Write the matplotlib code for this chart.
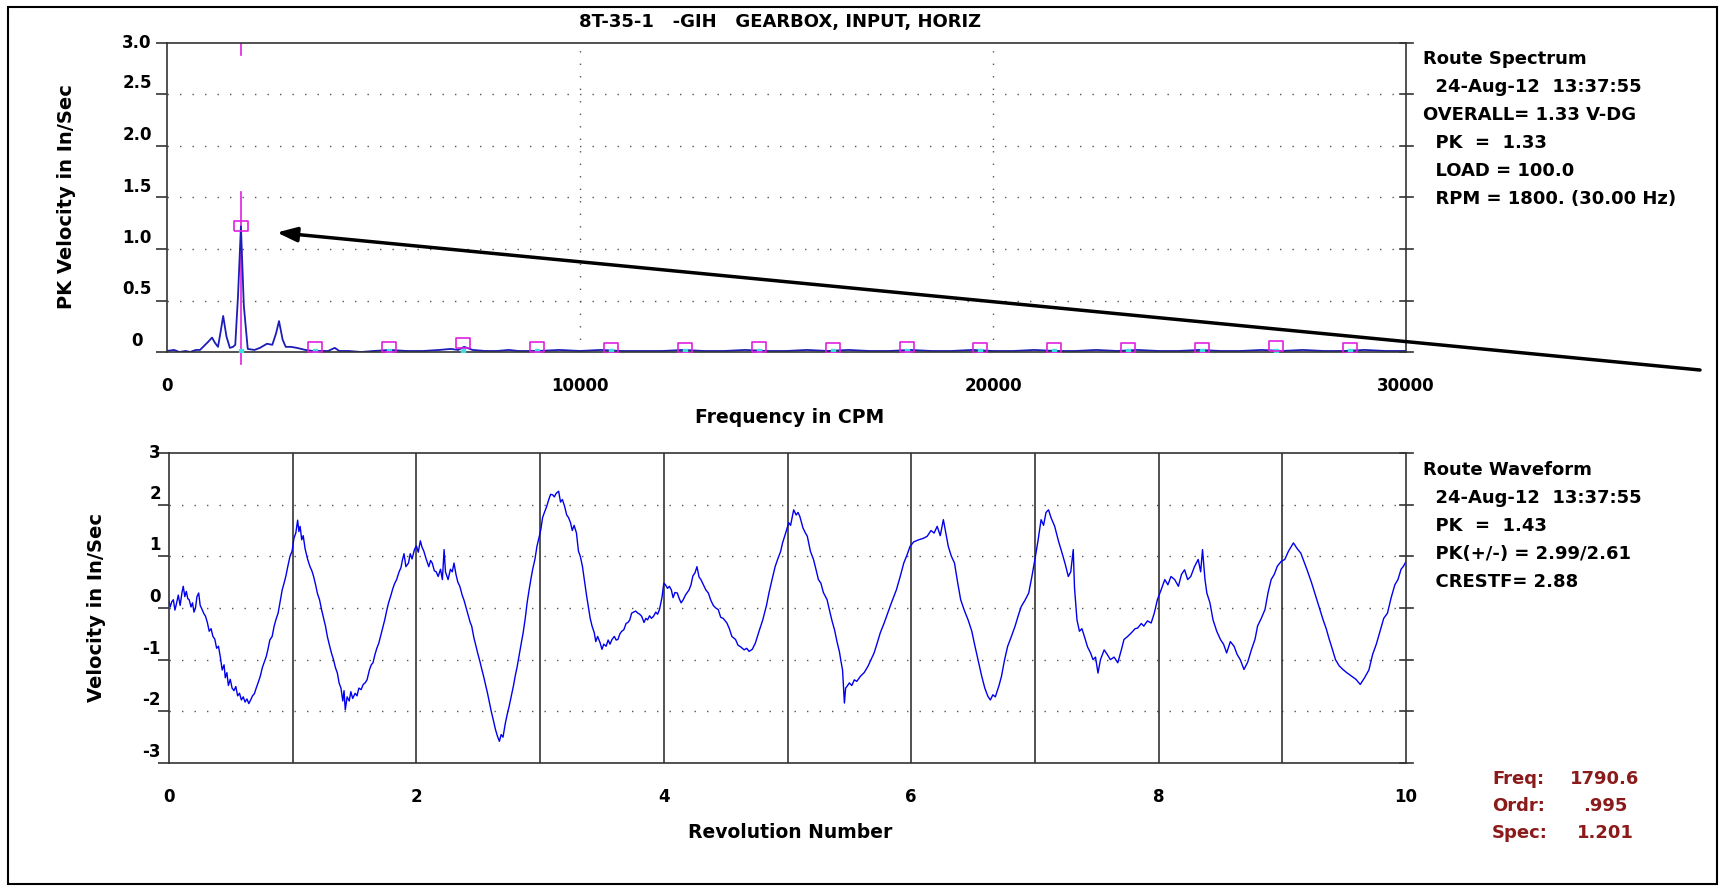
"""
Route spectrum and waveform plot for 8T-35-1 -GIH gearbox input, horizontal.
Values read by eye from the analyser printout.
"""
import matplotlib
matplotlib.use("Agg")
import matplotlib.pyplot as plt
import matplotlib.transforms as mtransforms

plt.rcParams['font.family'] = ['DejaVu Sans']
plt.rcParams['font.weight'] = 'bold'

#-- figure geometry (pixels) --------------------------------------------------
W, H = 1724, 890
DPI = 100

#-- spectrum data ---------------------------------------------------------------
freq_cpm = [0, 170, 300, 450, 560, 700, 800, 900, 1000, 1090, 1160, 1235,
            1300, 1360, 1440, 1523, 1600, 1653, 1720, 1790, 1860, 1955, 2117,
            2250, 2420, 2550, 2640, 2712, 2800, 2874, 3000, 3145, 3350, 3523,
            3700, 3900, 4063, 4171, 4400, 4700, 5000, 5400, 5800, 6200, 6600,
            6870, 7050, 7195, 7400, 7700, 8000, 8276, 8500, 9000, 9500, 10000,
            10500, 11000, 11500, 12000, 12500, 13000, 13500, 14000, 14500,
            15000, 15500, 16000, 16500, 17000, 17500, 18000, 18500, 19000,
            19500, 20000, 20500, 21000, 21500, 22000, 22500, 23000, 23500,
            24000, 24500, 25000, 25500, 26000, 26500, 27000, 27500, 28000,
            28500, 29000, 29500, 30000]
spec_amp = [0.01, 0.02, 0.0, 0.01, 0.0, 0.02, 0.02, 0.06, 0.10, 0.14, 0.09,
            0.05, 0.20, 0.35, 0.15, 0.04, 0.05, 0.07, 0.55, 1.22, 0.45, 0.03,
            0.02, 0.04, 0.08, 0.07, 0.18, 0.30, 0.12, 0.05, 0.05, 0.04, 0.02,
            0.01, 0.01, 0.01, 0.04, 0.01, 0.01, 0.0, 0.01, 0.02, 0.01, 0.01,
            0.02, 0.03, 0.02, 0.05, 0.02, 0.01, 0.01, 0.02, 0.01, 0.01, 0.02,
            0.01, 0.02, 0.01, 0.01, 0.01, 0.02, 0.01, 0.01, 0.02, 0.01, 0.01,
            0.02, 0.01, 0.02, 0.01, 0.01, 0.02, 0.01, 0.01, 0.02, 0.01, 0.01,
            0.02, 0.01, 0.01, 0.02, 0.01, 0.02, 0.01, 0.01, 0.02, 0.01, 0.01,
            0.02, 0.01, 0.02, 0.01, 0.01, 0.02, 0.01, 0.01]

#-- harmonic markers (multiples of 1790.6 CPM)
harm_cpm = [1790.6, 3581.2, 5371.8, 7162.4, 8953.0, 10743.6, 12534.2,
            14324.8, 16115.4, 17906.0, 19696.6, 21487.2, 23277.8, 25068.4,
            26859.0, 28649.6]
harm_amp = [1.22, 0.05, 0.05, 0.09, 0.05, 0.04, 0.04, 0.05, 0.04, 0.05,
            0.04, 0.04, 0.04, 0.04, 0.06, 0.04]
cursor_cpm = 1790.6

#-- waveform data ---------------------------------------------------------------
revs = [0.000, 0.010, 0.022, 0.035, 0.048, 0.060, 0.075, 0.090, 0.105, 0.115,
        0.128, 0.140, 0.152, 0.163, 0.178, 0.190, 0.202, 0.214, 0.226, 0.240,
        0.252, 0.266, 0.280, 0.295, 0.310, 0.325, 0.340, 0.355, 0.370, 0.385,
        0.400, 0.415, 0.430, 0.445, 0.455, 0.468, 0.480, 0.495, 0.510, 0.525,
        0.540, 0.555, 0.570, 0.585, 0.600, 0.615, 0.630, 0.645, 0.660, 0.675,
        0.690, 0.705, 0.720, 0.738, 0.755, 0.770, 0.786, 0.800, 0.815, 0.834,
        0.850, 0.865, 0.882, 0.900, 0.915, 0.930, 0.945, 0.960, 0.978, 0.995,
        1.010, 1.025, 1.040, 1.050, 1.060, 1.073, 1.085, 1.100, 1.121, 1.140,
        1.155, 1.169, 1.185, 1.200, 1.217, 1.235, 1.250, 1.265, 1.280, 1.295,
        1.313, 1.330, 1.345, 1.361, 1.375, 1.390, 1.405, 1.415, 1.425, 1.440,
        1.457, 1.470, 1.485, 1.505, 1.520, 1.535, 1.553, 1.570, 1.585, 1.601,
        1.620, 1.635, 1.649, 1.665, 1.680, 1.696, 1.715, 1.730, 1.744, 1.760,
        1.775, 1.792, 1.810, 1.825, 1.840, 1.860, 1.875, 1.888, 1.900, 1.915,
        1.936, 1.950, 1.965, 1.984, 2.000, 2.015, 2.032, 2.045, 2.060, 2.080,
        2.100, 2.115, 2.128, 2.145, 2.160, 2.176, 2.195, 2.210, 2.224, 2.235,
        2.256, 2.275, 2.290, 2.304, 2.320, 2.335, 2.351, 2.370, 2.385, 2.399,
        2.420, 2.435, 2.447, 2.465, 2.480, 2.495, 2.515, 2.530, 2.543, 2.560,
        2.575, 2.591, 2.605, 2.620, 2.639, 2.655, 2.671, 2.685, 2.700, 2.719,
        2.735, 2.750, 2.767, 2.785, 2.800, 2.815, 2.835, 2.850, 2.863, 2.880,
        2.895, 2.911, 2.925, 2.940, 2.958, 2.975, 2.990, 3.006, 3.020, 3.035,
        3.054, 3.070, 3.085, 3.102, 3.115, 3.130, 3.150, 3.165, 3.180, 3.198,
        3.215, 3.230, 3.246, 3.260, 3.275, 3.294, 3.310, 3.325, 3.342, 3.360,
        3.375, 3.390, 3.405, 3.420, 3.438, 3.450, 3.465, 3.486, 3.500, 3.515,
        3.534, 3.550, 3.565, 3.581, 3.600, 3.615, 3.629, 3.645, 3.660, 3.677,
        3.695, 3.710, 3.725, 3.740, 3.755, 3.773, 3.790, 3.805, 3.821, 3.840,
        3.855, 3.869, 3.885, 3.900, 3.917, 3.935, 3.950, 3.965, 3.985, 4.000,
        4.013, 4.030, 4.045, 4.061, 4.075, 4.090, 4.109, 4.125, 4.140, 4.157,
        4.175, 4.190, 4.204, 4.220, 4.235, 4.252, 4.268, 4.285, 4.300, 4.320,
        4.340, 4.360, 4.380, 4.400, 4.420, 4.440, 4.460, 4.480, 4.510, 4.530,
        4.550, 4.580, 4.600, 4.620, 4.650, 4.670, 4.690, 4.715, 4.740, 4.770,
        4.800, 4.830, 4.850, 4.875, 4.900, 4.920, 4.945, 4.960, 4.985, 5.010,
        5.025, 5.050, 5.070, 5.085, 5.100, 5.125, 5.145, 5.160, 5.185, 5.210,
        5.230, 5.250, 5.270, 5.290, 5.320, 5.340, 5.360, 5.380, 5.400, 5.420,
        5.430, 5.445, 5.460, 5.470, 5.480, 5.500, 5.520, 5.540, 5.560, 5.590,
        5.620, 5.650, 5.675, 5.700, 5.725, 5.750, 5.780, 5.810, 5.840, 5.880,
        5.910, 5.940, 5.970, 5.990, 6.020, 6.060, 6.100, 6.130, 6.160, 6.185,
        6.210, 6.235, 6.260, 6.280, 6.300, 6.325, 6.350, 6.375, 6.400, 6.430,
        6.460, 6.490, 6.510, 6.540, 6.570, 6.595, 6.620, 6.640, 6.660, 6.680,
        6.710, 6.730, 6.755, 6.780, 6.810, 6.840, 6.865, 6.890, 6.920, 6.950,
        6.975, 7.000, 7.025, 7.050, 7.070, 7.090, 7.110, 7.130, 7.160, 7.190,
        7.220, 7.245, 7.270, 7.290, 7.310, 7.320, 7.340, 7.360, 7.380, 7.400,
        7.425, 7.450, 7.470, 7.490, 7.510, 7.530, 7.560, 7.585, 7.610, 7.640,
        7.670, 7.700, 7.720, 7.750, 7.780, 7.810, 7.830, 7.860, 7.880, 7.910,
        7.940, 7.965, 7.990, 8.020, 8.050, 8.075, 8.100, 8.130, 8.160, 8.185,
        8.210, 8.235, 8.260, 8.290, 8.320, 8.340, 8.355, 8.375, 8.390, 8.415,
        8.440, 8.470, 8.500, 8.525, 8.550, 8.580, 8.610, 8.635, 8.660, 8.690,
        8.720, 8.750, 8.780, 8.800, 8.830, 8.860, 8.885, 8.910, 8.935, 8.960,
        8.990, 9.020, 9.050, 9.090, 9.120, 9.150, 9.175, 9.200, 9.235, 9.270,
        9.300, 9.330, 9.355, 9.380, 9.405, 9.430, 9.460, 9.490, 9.520, 9.560,
        9.595, 9.630, 9.665, 9.700, 9.730, 9.760, 9.790, 9.820, 9.850, 9.880,
        9.910, 9.935, 9.960, 9.980, 10.000]
vel = [0.13, 0.02, 0.12, 0.16, -0.04, 0.08, 0.25, 0.05, 0.30, 0.42,
       0.22, 0.32, 0.18, 0.16, 0.02, 0.10, -0.08, 0.00, 0.22, 0.29,
       0.05, -0.02, -0.10, -0.16, -0.28, -0.45, -0.40, -0.55, -0.60, -0.78,
       -0.74, -0.95, -1.20, -1.10, -1.35, -1.25, -1.50, -1.38, -1.55, -1.60,
       -1.52, -1.70, -1.65, -1.78, -1.72, -1.82, -1.76, -1.85, -1.78, -1.70,
       -1.66, -1.55, -1.45, -1.32, -1.15, -1.05, -0.94, -0.80, -0.62, -0.55,
       -0.35, -0.22, -0.10, 0.15, 0.35, 0.48, 0.62, 0.80, 1.00, 1.10,
       1.35, 1.45, 1.70, 1.48, 1.58, 1.32, 1.40, 1.15, 0.94, 0.80,
       0.72, 0.61, 0.45, 0.28, 0.16, -0.05, -0.20, -0.35, -0.55, -0.70,
       -0.87, -1.00, -1.15, -1.26, -1.45, -1.55, -1.80, -1.60, -1.97, -1.72,
       -1.80, -1.62, -1.75, -1.65, -1.70, -1.55, -1.58, -1.48, -1.45, -1.39,
       -1.20, -1.10, -1.06, -0.90, -0.78, -0.68, -0.50, -0.35, -0.23, -0.05,
       0.10, 0.23, 0.38, 0.48, 0.55, 0.70, 0.78, 0.94, 1.05, 0.80,
       0.87, 1.05, 0.95, 1.13, 1.20, 1.08, 1.30, 1.18, 1.10, 0.94,
       0.80, 0.92, 0.87, 0.72, 0.70, 0.61, 0.75, 0.55, 1.13, 0.70,
       0.55, 0.75, 0.70, 0.87, 0.65, 0.50, 0.42, 0.25, 0.15, 0.03,
       -0.15, -0.28, -0.35, -0.58, -0.72, -0.87, -1.05, -1.20, -1.32, -1.50,
       -1.65, -1.84, -2.00, -2.15, -2.35, -2.48, -2.58, -2.45, -2.50, -2.23,
       -2.05, -1.90, -1.71, -1.50, -1.30, -1.13, -0.85, -0.65, -0.48, -0.20,
       0.10, 0.35, 0.55, 0.75, 0.94, 1.20, 1.35, 1.52, 1.75, 1.85,
       1.97, 2.10, 2.20, 2.19, 2.15, 2.22, 2.26, 2.05, 2.10, 1.97,
       1.80, 1.75, 1.65, 1.50, 1.60, 1.45, 1.10, 1.00, 0.81, 0.50,
       0.25, 0.03, -0.20, -0.35, -0.48, -0.65, -0.55, -0.68, -0.80, -0.70,
       -0.74, -0.62, -0.70, -0.61, -0.55, -0.62, -0.61, -0.50, -0.45, -0.42,
       -0.30, -0.28, -0.23, -0.10, -0.08, -0.06, -0.10, -0.12, -0.16, -0.28,
       -0.20, -0.23, -0.15, -0.20, -0.16, -0.08, -0.12, -0.03, 0.20, 0.48,
       0.45, 0.38, 0.42, 0.35, 0.20, 0.30, 0.29, 0.18, 0.10, 0.16,
       0.25, 0.30, 0.35, 0.45, 0.62, 0.68, 0.80, 0.60, 0.55, 0.45,
       0.35, 0.29, 0.15, 0.05, 0.00, -0.03, -0.18, -0.20, -0.29, -0.40,
       -0.55, -0.61, -0.72, -0.75, -0.81, -0.78, -0.84, -0.80, -0.68, -0.45,
       -0.23, 0.05, 0.29, 0.55, 0.80, 0.94, 1.10, 1.26, 1.45, 1.65,
       1.60, 1.90, 1.80, 1.85, 1.77, 1.55, 1.45, 1.39, 1.10, 0.94,
       0.75, 0.55, 0.48, 0.30, 0.16, -0.05, -0.25, -0.42, -0.65, -0.85,
       -1.00, -1.20, -1.84, -1.55, -1.52, -1.45, -1.50, -1.39, -1.42, -1.32,
       -1.25, -1.13, -1.00, -0.87, -0.68, -0.48, -0.30, -0.10, 0.10, 0.35,
       0.60, 0.87, 1.05, 1.19, 1.28, 1.32, 1.35, 1.39, 1.50, 1.45,
       1.58, 1.40, 1.71, 1.45, 1.19, 1.00, 0.87, 0.50, 0.16, -0.05,
       -0.23, -0.45, -0.68, -1.00, -1.32, -1.55, -1.71, -1.78, -1.68, -1.72,
       -1.50, -1.32, -1.00, -0.74, -0.55, -0.35, -0.15, 0.03, 0.15, 0.29,
       0.60, 0.94, 1.30, 1.71, 1.60, 1.85, 1.90, 1.75, 1.58, 1.30,
       1.06, 0.85, 0.61, 0.70, 1.13, 0.40, -0.23, -0.45, -0.40, -0.55,
       -0.75, -0.87, -1.00, -0.95, -1.26, -1.00, -0.81, -0.90, -1.00, -0.95,
       -1.06, -0.80, -0.61, -0.55, -0.48, -0.40, -0.39, -0.30, -0.35, -0.25,
       -0.29, -0.10, 0.16, 0.35, 0.55, 0.45, 0.61, 0.55, 0.42, 0.65,
       0.74, 0.55, 0.61, 0.80, 0.94, 0.70, 1.13, 0.55, 0.29, 0.10,
       -0.23, -0.45, -0.61, -0.70, -0.87, -0.65, -0.74, -0.90, -1.00, -1.19,
       -1.05, -0.81, -0.60, -0.35, -0.20, -0.03, 0.30, 0.55, 0.65, 0.81,
       0.90, 0.94, 1.10, 1.26, 1.15, 1.06, 0.90, 0.74, 0.50, 0.23,
       0.00, -0.23, -0.40, -0.61, -0.80, -1.00, -1.12, -1.19, -1.25, -1.32,
       -1.38, -1.48, -1.35, -1.20, -0.90, -0.70, -0.45, -0.20, -0.10, 0.20,
       0.45, 0.55, 0.75, 0.81, 0.90]

#-- labels ----------------------------------------------------------------------
title = "8T-35-1   -GIH   GEARBOX, INPUT, HORIZ"
spec_ticks = [0, 0.5, 1.0, 1.5, 2.0, 2.5, 3.0]
spec_ticklabels = ["0", "0.5", "1.0", "1.5", "2.0", "2.5", "3.0"]
wave_ticks = [-3, -2, -1, 0, 1, 2, 3]
wave_ticklabels = ["-3", "-2", "-1", "0", "1", "2", "3"]
spec_info = ["Route Spectrum", "  24-Aug-12  13:37:55", "OVERALL= 1.33 V-DG",
             "  PK  =  1.33", "  LOAD = 100.0", "  RPM = 1800. (30.00 Hz)"]
wave_info = ["Route Waveform", "  24-Aug-12  13:37:55", "  PK  =  1.43",
             "  PK(+/-) = 2.99/2.61", "  CRESTF= 2.88"]
cursor_names = ["Freq:", "Ordr:", "Spec:"]
cursor_vals = ["1790.6", ".995", "1.201"]


def fx(x):
    return x / W


def fy(y):
    return 1 - y / H


def axes_rect(left, top, right, bottom):
    return [fx(left), fy(bottom), (right - left) / W, (bottom - top) / H]


fig = plt.figure(figsize=(W / DPI, H / DPI), dpi=DPI)

#-- outer frame
fig.patches.append(plt.Rectangle((fx(8), fy(884)), fx(1709), (884 - 7) / H,
                                 transform=fig.transFigure, fill=False,
                                 lw=1.5, ec='black'))

dots = (0, (1, 8))
grid_col = '#555555'
tick_fs = 12


def style_axes(ax, yticks, ylabels, xlab, ha):
    for s in ax.spines.values():
        s.set_color('#333333')
        s.set_linewidth(1.2)
    ax.set_yticks(yticks)
    ax.set_yticklabels([])
    ax.tick_params(axis='y', direction='out', length=8, width=1.2,
                   color='#333333')
    ax.tick_params(axis='x', length=0, labelsize=tick_fs, pad=18)
    #-- labels sit a little above their tick, except the top one
    off = mtransforms.ScaledTranslation(0, 11 / DPI, fig.dpi_scale_trans)
    btr = mtransforms.blended_transform_factory(ax.transAxes, ax.transData)
    for v, lab in zip(yticks, ylabels):
        tr = btr if v == yticks[-1] else btr + off
        ax.text(xlab, v, lab, transform=tr, ha=ha, va='center',
                fontsize=tick_fs, fontweight='bold')
        #-- short ticks crossing the right spine
        ax.plot([0.995, 1.006], [v, v], transform=btr, color='#333333',
                lw=1.2, clip_on=False)


#-- spectrum panel --------------------------------------------------------------
ax1 = fig.add_axes(axes_rect(167, 43, 1406, 352))
ax1.set_xlim(0, 30000)
ax1.set_ylim(0, 3.0)
for v in spec_ticks[1:-1]:
    ax1.axhline(v, color=grid_col, lw=1, ls=dots, zorder=0)
for v in [10000, 20000]:
    ax1.axvline(v, color=grid_col, lw=1, ls=dots, zorder=0)
ax1.plot(freq_cpm, spec_amp, color='#1c1cb8', lw=1.3, zorder=2)
ax1.plot(harm_cpm, [0.005] * len(harm_cpm), ls='none', marker='s', ms=3,
         color='#40e0e0', zorder=3)
box = [(-1.3, -1), (1.3, -1), (1.3, 1), (-1.3, 1), (-1.3, -1)]
ax1.plot(harm_cpm, harm_amp, ls='none', marker=box, ms=10, mfc='none',
         mec='#e020e0', mew=1.2, zorder=4)
ax1.plot([cursor_cpm, cursor_cpm], [2.88, 3.0], color='#e020e0', lw=1.2)
ax1.plot([cursor_cpm, cursor_cpm], [-0.12, 1.55], color='#e020e0', lw=1.2,
         clip_on=False, zorder=1)
ax1.set_xticks([0, 10000, 20000, 30000])
ax1.set_xticklabels(["0", "10000", "20000", "30000"], fontsize=tick_fs,
                    fontweight='bold')
style_axes(ax1, spec_ticks, spec_ticklabels, (137 - 167) / 1239, 'center')

#-- waveform panel --------------------------------------------------------------
ax2 = fig.add_axes(axes_rect(169, 453, 1406, 763))
ax2.set_xlim(0, 10)
ax2.set_ylim(-3, 3)
for v in wave_ticks[1:-1]:
    ax2.axhline(v, color=grid_col, lw=1, ls=dots, zorder=0)
for v in range(1, 10):
    ax2.axvline(v, color='#222222', lw=1.1, zorder=1)
ax2.plot(revs, vel, color='#0000ee', lw=1.0, zorder=2)
ax2.set_xticks([0, 2, 4, 6, 8, 10])
ax2.set_xticklabels(["0", "2", "4", "6", "8", "10"], fontsize=tick_fs,
                    fontweight='bold')
style_axes(ax2, wave_ticks, wave_ticklabels, (161 - 169) / 1237, 'right')

#-- titles and axis labels
fig.text(fx(780), fy(22), title, ha='center', va='center', fontsize=13)
fig.text(fx(790), fy(418), "Frequency in CPM", ha='center', va='center',
         fontsize=13.5)
fig.text(fx(790), fy(832), "Revolution Number", ha='center', va='center',
         fontsize=13.5)
fig.text(fx(67), fy(197), "PK Velocity in In/Sec", rotation=90,
         ha='center', va='center', fontsize=14)
fig.text(fx(97), fy(608), "Velocity in In/Sec", rotation=90,
         ha='center', va='center', fontsize=14)

#-- info blocks on the right
for i, line in enumerate(spec_info):
    fig.text(fx(1423), fy(59 + 28 * i), line, ha='left', va='center',
             fontsize=13)
for i, line in enumerate(wave_info):
    fig.text(fx(1423), fy(470 + 28 * i), line, ha='left', va='center',
             fontsize=13)
for i, (name, val) in enumerate(zip(cursor_names, cursor_vals)):
    fig.text(fx(1492), fy(779 + 27 * i), name, ha='left', va='center',
             fontsize=13, color='#8b1a1a')
    fig.text(fx(1605), fy(779 + 27 * i), val, ha='center', va='center',
             fontsize=13, color='#8b1a1a')

#-- pointer to the running-speed peak
ax1.annotate('', xy=(2660, 1.16), xycoords='data',
             xytext=(fx(1700), fy(370)), textcoords='figure fraction',
             arrowprops=dict(arrowstyle='-|>,head_length=0.6,head_width=0.22',
                             lw=2.5, color='black', mutation_scale=20,
                             shrinkA=0, shrinkB=0),
             annotation_clip=False)

fig.savefig('out.png', dpi=DPI)
